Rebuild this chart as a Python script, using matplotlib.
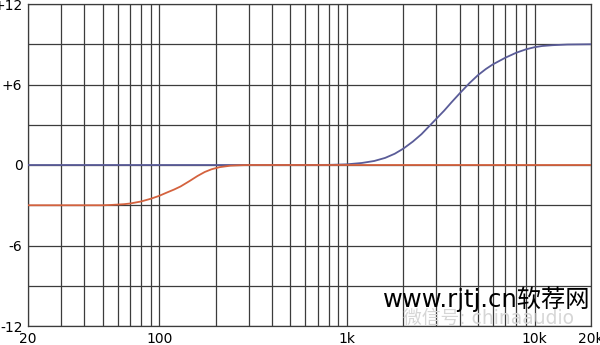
import matplotlib
matplotlib.use("Agg")
import matplotlib.pyplot as plt

# high shelf (blue)
blue_freq = [20, 500, 800, 1000, 1200, 1400, 1600, 1800, 2000, 2250, 2500, 2750,
             3000, 3300, 3600, 4000, 4500, 5000, 5500, 6000, 7000, 8000, 9000,
             10000, 11000, 12500, 15000, 20000]
blue_gain = [0, 0, 0.01, 0.05, 0.15, 0.3, 0.53, 0.84, 1.22, 1.75, 2.3, 2.9,
             3.45, 4.05, 4.65, 5.35, 6.1, 6.7, 7.15, 7.5, 8.0, 8.37, 8.62,
             8.78, 8.87, 8.93, 8.98, 9.0]

# low shelf (red)
red_freq = [20, 40, 50, 55, 60, 65, 70, 80, 90, 100, 110, 120, 130, 145, 160,
            175, 190, 210, 240, 280, 300, 1000, 20000]
red_gain = [-3, -3, -3, -2.98, -2.95, -2.92, -2.87, -2.72, -2.52, -2.3, -2.05,
            -1.83, -1.6, -1.2, -0.82, -0.52, -0.32, -0.16, -0.05, -0.01, 0, 0, 0]

x_major = [20, 100, 1000, 10000, 20000]
x_major_labels = ["20", "100", "1k", "10k", "20k"]
x_minor = [30, 40, 50, 60, 70, 80, 90, 200, 300, 400, 500, 600, 700, 800, 900,
           2000, 3000, 4000, 5000, 6000, 7000, 8000, 9000]
y_ticks = [-12, -9, -6, -3, 0, 3, 6, 9, 12]
y_labels = ["-12", "", "-6", "", "0", "", "+6", "", "+12"]

grid_col = "#3c3c3c"

fig = plt.figure(figsize=(6, 3.45), dpi=100)
ax = fig.add_axes([28 / 600, 19 / 345, 563 / 600, 322 / 345])

ax.plot(blue_freq, blue_gain, color="#5a5c98", lw=1.3, zorder=3)
ax.plot(red_freq, red_gain, color="#d4623e", lw=1.3, zorder=4)

ax.set_xscale("log")
ax.set_xlim(20, 20000)
ax.set_ylim(-12, 12)
ax.set_xticks(x_major)
ax.set_xticklabels(x_major_labels)
ax.set_xticks(x_minor, minor=True)
ax.set_xticklabels([], minor=True)
ax.set_yticks(y_ticks)
ax.set_yticklabels(y_labels)

ax.grid(True, which="both", color=grid_col, lw=0.9)
ax.tick_params(which="both", length=0, labelsize=10, colors="black")
ax.tick_params(axis="x", pad=4)
ax.tick_params(axis="y", pad=4)
for s in ax.spines.values():
    s.set_color(grid_col)
    s.set_linewidth(0.9)

# watermark
fig.text(0.638, 0.11, "www.rjtj.cn软荐网", fontsize=17.5, color="black",
         family=["DejaVu Sans", "Noto Sans CJK SC"], ha="left", va="baseline")
fig.text(0.672, 0.062, "微信号: chinaaudio", fontsize=13.5, color="#d6d6d6",
         family=["DejaVu Sans", "Noto Sans CJK SC"], ha="left", va="baseline")

fig.savefig("out.png", dpi=100)
